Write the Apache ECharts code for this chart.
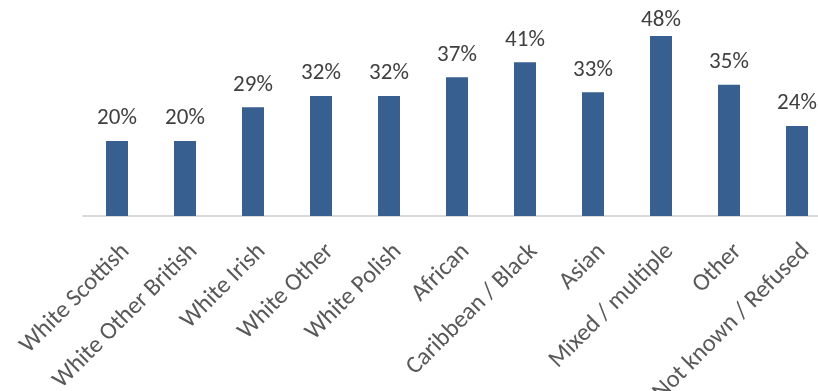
<!DOCTYPE html>
<html>
<head>
<meta charset="utf-8">
<script src="https://cdn.jsdelivr.net/npm/echarts@6/dist/echarts.min.js"></script>
<style>
  html, body { margin: 0; padding: 0; background: #ffffff; }
  #chart { width: 818px; height: 391px; }
</style>
</head>
<body>
<div id="chart"></div>
<script>
// Share (%) by ethnic group
const categories = [
  'White Scottish', 'White Other British', 'White Irish', 'White Other',
  'White Polish', 'African', 'Caribbean / Black', 'Asian',
  'Mixed / multiple', 'Other', 'Not known / Refused'
];
const values = [20, 20, 29, 32, 32, 37, 41, 33, 48, 35, 24];

const FONT = 'Carlito, Calibri, Lato, sans-serif';
const LABEL_SIZE = 23;
const LABEL_GAP = 11;
const LABEL_MIN_TOP = 9;   // value labels are kept inside the chart area

const chart = echarts.init(document.getElementById('chart'), null, { renderer: 'canvas' });

function barData(distances) {
  return values.map((v, i) => ({
    value: v,
    label: { distance: distances ? distances[i] : LABEL_GAP }
  }));
}

chart.setOption({
  animation: false,
  backgroundColor: '#ffffff',
  grid: {
    left: 83, right: -13, top: 28.5, bottom: 175,
    containLabel: false,
    outerBoundsMode: 'none'
  },
  xAxis: {
    type: 'category',
    data: categories,
    axisLine: { show: true, lineStyle: { color: '#D9D9D9', width: 2 } },
    axisTick: { show: false },
    axisLabel: {
      rotate: 45,
      interval: 0,
      margin: 23,
      verticalAlign: 'top',
      color: '#595959',
      fontFamily: FONT,
      fontSize: 24.5
    }
  },
  yAxis: {
    type: 'value',
    min: 0,
    max: 50,
    show: false
  },
  series: [{
    type: 'bar',
    data: barData(),
    barWidth: 22,
    itemStyle: { color: '#375F8F' },
    label: {
      show: true,
      position: 'top',
      formatter: p => p.value + '%',
      color: '#404040',
      fontFamily: FONT,
      fontSize: LABEL_SIZE
    }
  }]
});

// Pull down any value label that would rise above the chart area
const distances = values.map((v, i) => {
  const top = chart.convertToPixel({ seriesIndex: 0 }, [i, v])[1];
  const labelTop = top - LABEL_GAP - LABEL_SIZE;
  return labelTop < LABEL_MIN_TOP ? Math.max(2, top - LABEL_SIZE - LABEL_MIN_TOP) : LABEL_GAP;
});
chart.setOption({ series: [{ data: barData(distances) }] });
</script>
</body>
</html>
